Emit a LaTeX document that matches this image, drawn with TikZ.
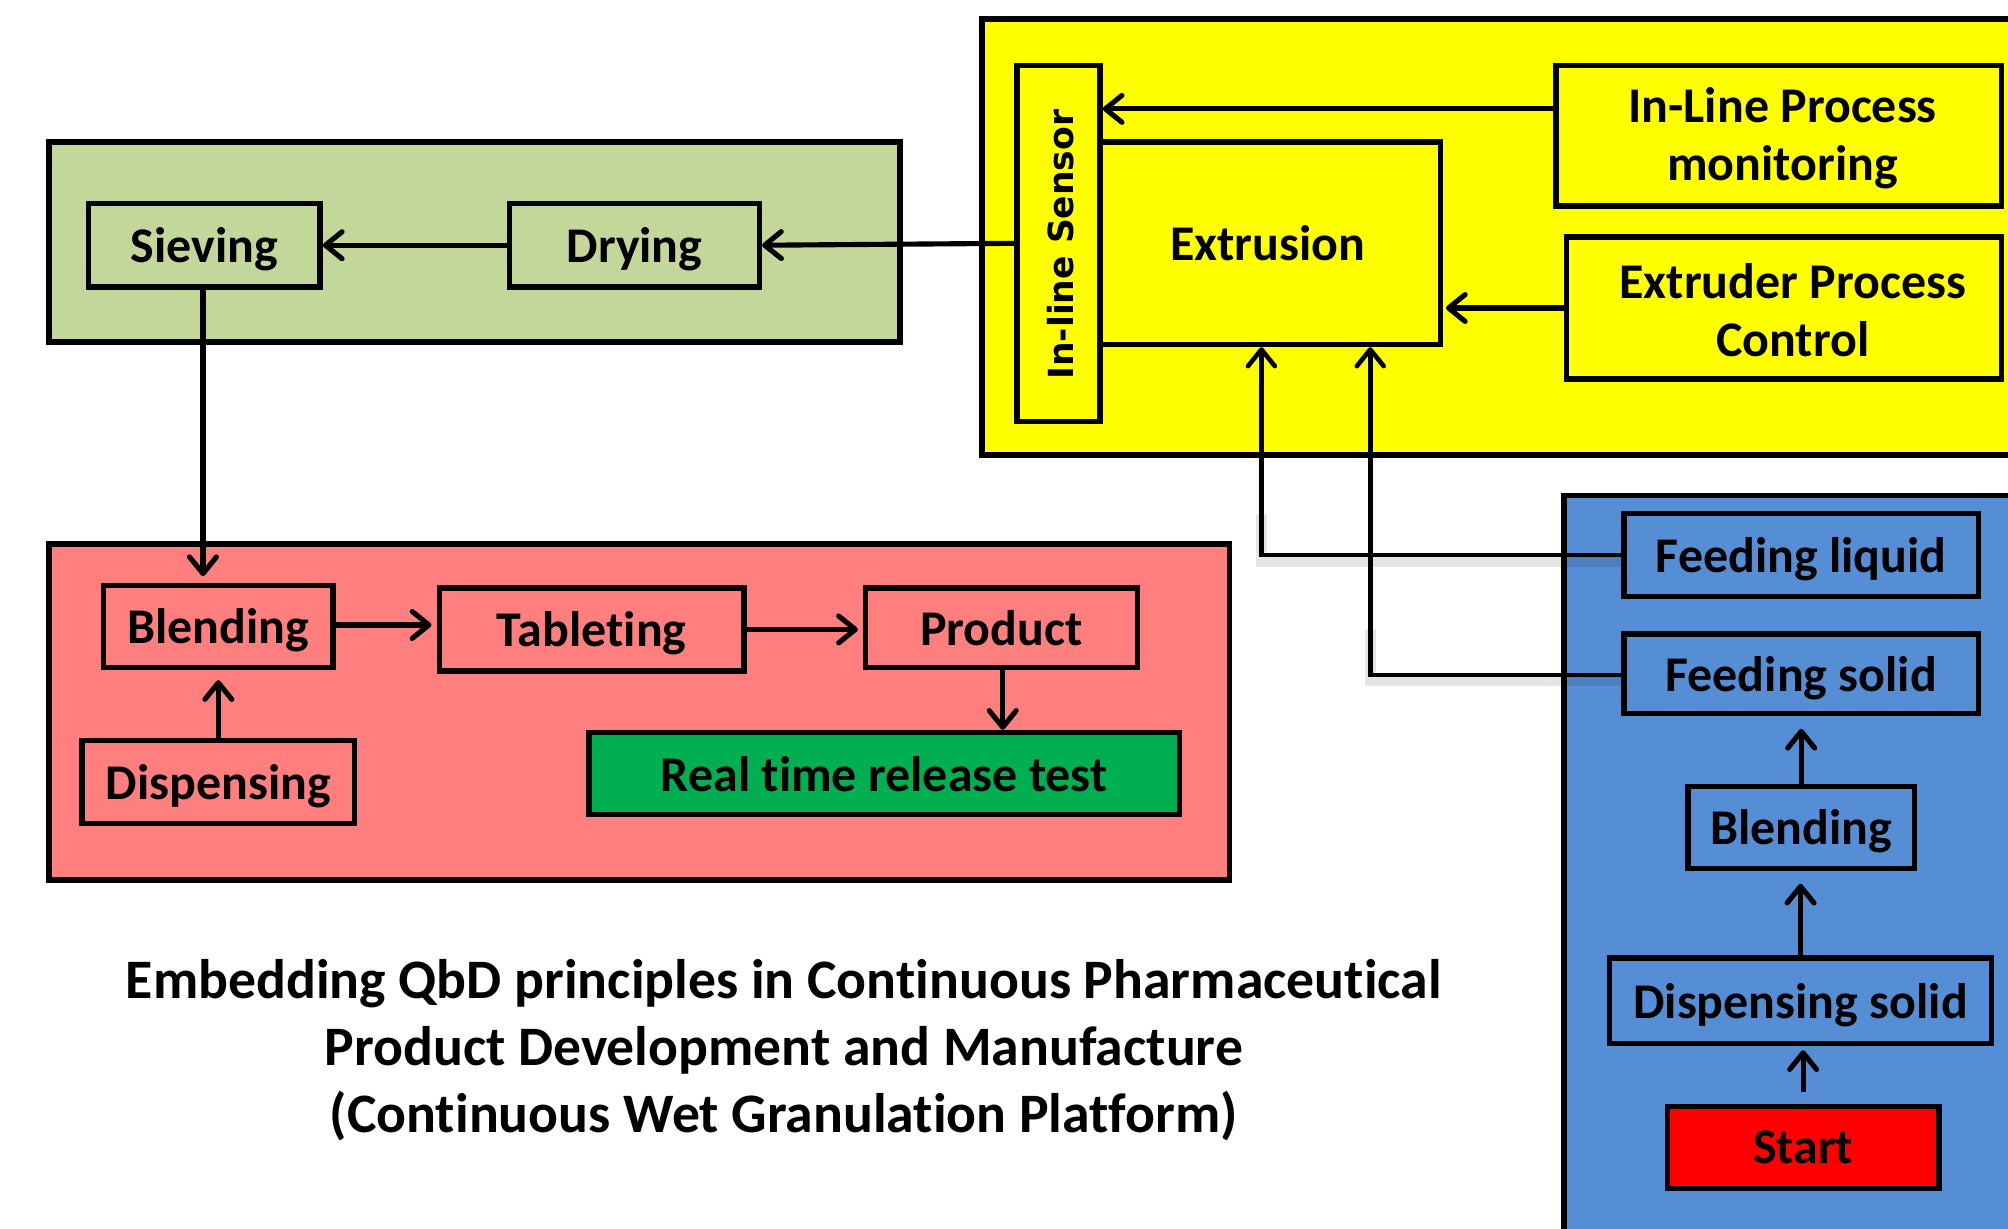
\documentclass[tikz,border=0pt]{standalone}
\usepackage{fontspec}
\setmainfont{Carlito}[Ligatures=NoCommon]
\newfontfamily\dvsans{DejaVu Sans}
\usetikzlibrary{arrows.meta,calc}
\definecolor{gbg}{HTML}{C4D79B}
\definecolor{ybg}{HTML}{FFFF00}
\definecolor{pbg}{HTML}{FF7F7F}
\definecolor{bbg}{HTML}{558ED5}
\definecolor{rtg}{HTML}{00B050}
\definecolor{strt}{HTML}{FF0000}
\begin{document}
\begin{tikzpicture}[x=1pt,y=-1pt,
  panel/.style={draw, line width=4.5pt, inner sep=0pt},
  box/.style={draw, line width=4.2pt, inner sep=0pt, align=center, text depth=0pt,
    font=\bfseries\fontsize{39}{45}\selectfont},
  lbl/.style={inner sep=0pt, align=center, font=\bfseries\fontsize{39}{45}\selectfont},
  arr/.style={line width=4pt, -{Straight Barb[length=13pt,width=21pt,round]}},
  feed/.style={line width=3.6pt, -{Straight Barb[length=13pt,width=21pt,round]}},
  shad/.style={line width=9pt, draw=black, opacity=0.10}
]
\useasboundingbox (0,0) rectangle (1568,959);
\fill[white] (0,0) rectangle (1568,959);
\clip (0,0) rectangle (1568,959);

% green panel
\node[panel, fill=gbg, minimum width=665, minimum height=156] (green) at (370.5,189) {};
\node[box, fill=gbg, minimum width=181, minimum height=65] (sieve) at (159.5,191.5) {Sieving};
\node[box, fill=gbg, minimum width=195, minimum height=65] (dry) at (495.5,191.5) {Drying};

% yellow panel
\node[panel, fill=ybg, minimum width=813, minimum height=340] (yellow) at (1173.5,185) {};
\node[box, fill=ybg, minimum width=266, minimum height=158] (extr) at (992,190) {};
\node[lbl] (extrt) at (990,190) {Extrusion};
\node[box, fill=ybg, minimum width=65, minimum height=278] (sensor) at (826.5,190) {};
\node[inner sep=0pt, rotate=90, font=\dvsans\bfseries\fontsize{27}{30}\selectfont] (sensort) at (828,191) {In-line Sensor};
\node[box, fill=ybg, minimum width=348, minimum height=110] (mon) at (1389,106) {};
\node[lbl] (mont) at (1392,108) {In-Line Process\\monitoring};
\node[box, fill=ybg, minimum width=340, minimum height=111] (epc) at (1393,240.5) {};
\node[lbl] (epct) at (1400,242) {Extruder Process\\Control};

% pink panel
\node[panel, fill=pbg, minimum width=922, minimum height=262] (pink) at (499,556) {};
\node[box, fill=pbg, minimum width=179, minimum height=64] (blendA) at (170.5,489) {Blending};
\node[box, fill=pbg, minimum width=238, minimum height=65] (tab) at (462,491.5) {Tableting};
\node[box, fill=pbg, minimum width=212, minimum height=62] (prod) at (782,490) {Product};
\node[box, fill=pbg, minimum width=213, minimum height=65] (dispA) at (170.5,610.5) {Dispensing};
\node[box, fill=rtg, minimum width=461, minimum height=64] (rtrt) at (690.5,604) {Real time release test};

% blue panel
\node[panel, fill=bbg, minimum width=359, minimum height=583] (blue) at (1400.5,678.5) {};
\node[box, fill=bbg, minimum width=277, minimum height=65] (fl) at (1406.5,433.5) {Feeding liquid};
\node[box, fill=bbg, minimum width=277, minimum height=62] (fs) at (1406.5,526) {Feeding solid};
\node[box, fill=bbg, minimum width=177, minimum height=64] (blendB) at (1406.5,646) {Blending};
\node[box, fill=bbg, minimum width=298, minimum height=67] (ds) at (1406,781.5) {Dispensing solid};
\node[box, fill=strt, minimum width=212, minimum height=64] (start) at (1408,896) {Start};

% connectors
\draw[arr] (dry.west) -- (sieve.east);
\draw[arr] (sensor.west) -- (dry.east);
\draw[arr] ([yshift=21pt]mon.west) -- ([yshift=21pt]mon.west -| sensor.east);
\draw[arr, shorten >=2pt] (epc.west) -- (epc.west -| extr.east);
\draw[arr, shorten >=5pt] ([xshift=-1pt]sieve.south) -- ([xshift=-1pt]sieve.south |- blendA.north);
\draw[arr, shorten >=4pt] ([yshift=1pt]blendA.east) -- ([yshift=1pt]blendA.east -| tab.west);
\draw[arr, shorten >=4pt] (tab.east) -- (tab.east -| prod.west);
\draw[arr] ([xshift=1pt]prod.south) -- ([xshift=1pt]prod.south |- rtrt.north);
\draw[arr, shorten >=8pt] (dispA.north) -- (blendA.south);
\draw[arr, shorten <=9pt, shorten >=3pt] (start.north) -- (start.north |- ds.south);
\draw[arr, shorten >=10pt] (ds.north) -- (ds.north |- blendB.south);
\draw[arr, shorten >=10pt] (blendB.north) -- (blendB.north |- fs.south);

% feeding connectors with faint shadow
\draw[shad] ([yshift=-5pt]fl.west) -| ([xshift=-7pt,yshift=-130pt]extr.south);
\draw[shad] ([yshift=-5pt]fs.west) -| ([xshift=78pt,yshift=-220pt]extr.south);
\draw[feed] (fl.west) -| ([xshift=-7pt]extr.south);
\draw[feed] ([yshift=-1pt]fs.west) -| ([xshift=78pt]extr.south);

% title
\node[inner sep=0pt, align=center, font=\bfseries\fontsize{43.5}{52}\selectfont] (title) at (612,820)
  {Embedding QbD principles in Continuous Pharmaceutical\\Product Development and Manufacture\\(Continuous Wet Granulation Platform)};
\end{tikzpicture}
\end{document}
